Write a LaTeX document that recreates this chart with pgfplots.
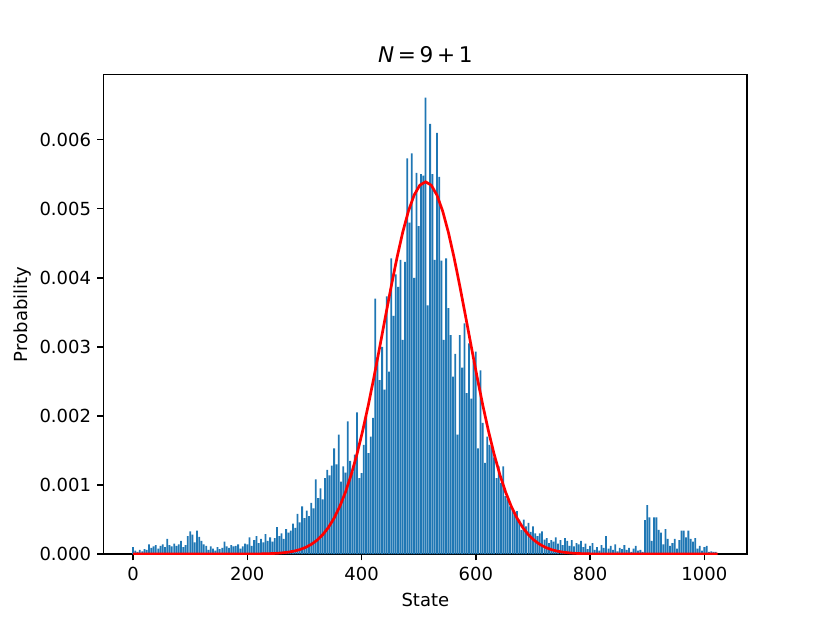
\documentclass[border=0pt]{standalone}
\usepackage{fontspec}
\setmainfont{DejaVu Sans}
\usepackage{pgfplots}
\usepackage{pgfplotstable}
\pgfplotsset{compat=1.18}
\definecolor{mplblue}{HTML}{1F77B4}

% probability per state (every 4th state)
\pgfplotstableread[row sep=\\]{
s p\\
0 0.00010\\ 4 0.00005\\ 8 0.00003\\ 12 0.00006\\ 16 0.00004\\ 20 0.00007\\ 24 0.00006\\ 28 0.00014\\
32 0.00009\\ 36 0.00011\\ 40 0.00013\\ 44 0.00008\\ 48 0.00012\\ 52 0.00014\\ 56 0.00010\\ 60 0.00022\\
64 0.00013\\ 68 0.00011\\ 72 0.00015\\ 76 0.00012\\ 80 0.00014\\ 84 0.00019\\ 88 0.00010\\ 92 0.00013\\
96 0.00026\\ 100 0.00033\\ 104 0.00028\\ 108 0.00017\\ 112 0.00034\\ 116 0.00025\\ 120 0.00019\\ 124 0.00014\\
128 0.00012\\ 132 0.00006\\ 136 0.00011\\ 140 0.00008\\ 144 0.00005\\ 148 0.00010\\ 152 0.00007\\ 156 0.00009\\
160 0.00018\\ 164 0.00011\\ 168 0.00009\\ 172 0.00013\\ 176 0.00011\\ 180 0.00012\\ 184 0.00014\\ 188 0.00008\\
192 0.00011\\ 196 0.00015\\ 200 0.00014\\ 204 0.00024\\ 208 0.00012\\ 212 0.00020\\ 216 0.00026\\ 220 0.00016\\
224 0.00022\\ 228 0.00017\\ 232 0.00029\\ 236 0.00019\\ 240 0.00024\\ 244 0.00018\\ 248 0.00023\\ 252 0.00039\\
256 0.00026\\ 260 0.00030\\ 264 0.00022\\ 268 0.00036\\ 272 0.00031\\ 276 0.00034\\ 280 0.00044\\ 284 0.00038\\
288 0.00058\\ 292 0.00046\\ 296 0.00069\\ 300 0.00052\\ 304 0.00063\\ 308 0.00055\\ 312 0.00074\\ 316 0.00066\\
320 0.00108\\ 324 0.00081\\ 328 0.00095\\ 332 0.00079\\ 336 0.00110\\ 340 0.00122\\ 344 0.00114\\ 348 0.00128\\
352 0.00153\\ 356 0.00130\\ 360 0.00173\\ 364 0.00105\\ 368 0.00127\\ 372 0.00118\\ 376 0.00192\\ 380 0.00135\\
384 0.00119\\ 388 0.00144\\ 392 0.00205\\ 396 0.00110\\ 400 0.00117\\ 404 0.00158\\ 408 0.00200\\ 412 0.00146\\
416 0.00170\\ 420 0.00197\\ 424 0.00370\\ 428 0.00285\\ 432 0.00252\\ 436 0.00300\\ 440 0.00238\\ 444 0.00373\\
448 0.00264\\ 452 0.00428\\ 456 0.00345\\ 460 0.00405\\ 464 0.00387\\ 468 0.00426\\ 472 0.00310\\ 476 0.00423\\
480 0.00573\\ 484 0.00480\\ 488 0.00580\\ 492 0.00400\\ 496 0.00552\\ 500 0.00475\\ 504 0.00550\\ 508 0.00548\\
512 0.00661\\ 516 0.00360\\ 520 0.00623\\ 524 0.00550\\ 528 0.00426\\ 532 0.00610\\ 536 0.00546\\ 540 0.00425\\
544 0.00310\\ 548 0.00428\\ 552 0.00356\\ 556 0.00317\\ 560 0.00257\\ 564 0.00290\\ 568 0.00173\\ 572 0.00317\\
576 0.00270\\ 580 0.00334\\ 584 0.00233\\ 588 0.00305\\ 592 0.00225\\ 596 0.00280\\ 600 0.00293\\ 604 0.00153\\
608 0.00266\\ 612 0.00190\\ 616 0.00132\\ 620 0.00170\\ 624 0.00158\\ 628 0.00156\\ 632 0.00140\\ 636 0.00110\\
640 0.00127\\ 644 0.00103\\ 648 0.00127\\ 652 0.00084\\ 656 0.00079\\ 660 0.00069\\ 664 0.00064\\ 668 0.00057\\
672 0.00062\\ 676 0.00050\\ 680 0.00035\\ 684 0.00050\\ 688 0.00040\\ 692 0.00045\\ 696 0.00032\\ 700 0.00040\\
704 0.00030\\ 708 0.00026\\ 712 0.00030\\ 716 0.00033\\ 720 0.00021\\ 724 0.00023\\ 728 0.00016\\ 732 0.00020\\
736 0.00018\\ 740 0.00024\\ 744 0.00015\\ 748 0.00020\\ 752 0.00013\\ 756 0.00023\\ 760 0.00019\\ 764 0.00012\\
768 0.00020\\ 772 0.00011\\ 776 0.00016\\ 780 0.00014\\ 784 0.00019\\ 788 0.00010\\ 792 0.00015\\ 796 0.00007\\
800 0.00012\\ 804 0.00016\\ 808 0.00006\\ 812 0.00010\\ 816 0.00005\\ 820 0.00013\\ 824 0.00009\\ 828 0.00026\\
832 0.00008\\ 836 0.00012\\ 840 0.00006\\ 844 0.00014\\ 848 0.00004\\ 852 0.00009\\ 856 0.00007\\ 860 0.00013\\
864 0.00006\\ 868 0.00009\\ 872 0.00003\\ 876 0.00008\\ 880 0.00012\\ 884 0.00005\\ 888 0.00006\\ 892 0.00003\\
896 0.00049\\ 900 0.00071\\ 904 0.00053\\ 908 0.00019\\ 912 0.00053\\ 916 0.00053\\ 920 0.00035\\ 924 0.00031\\
928 0.00014\\ 932 0.00036\\ 936 0.00022\\ 940 0.00012\\ 944 0.00016\\ 948 0.00022\\ 952 0.00008\\ 956 0.00020\\
960 0.00034\\ 964 0.00034\\ 968 0.00024\\ 972 0.00034\\ 976 0.00022\\ 980 0.00018\\ 984 0.00023\\ 988 0.00008\\
992 0.00012\\ 996 0.00005\\ 1000 0.00010\\ 1004 0.00012\\ 1008 0.00003\\ 1012 0.00004\\ 1016 0.00003\\ 1020 0.00003\\
}\bars

% fitted gaussian
\pgfplotstableread[row sep=\\]{
s g\\
0 0\\ 212 0.0000015\\ 222 0.0000025\\ 232 0.0000042\\ 242 0.0000069\\ 252 0.0000113\\ 262 0.0000179\\
272 0.0000280\\ 282 0.0000430\\ 292 0.0000649\\ 302 0.0000962\\ 312 0.000140\\ 322 0.000200\\
332 0.000280\\ 342 0.000385\\ 352 0.000521\\ 362 0.000691\\ 372 0.000900\\ 382 0.001152\\
392 0.001447\\ 402 0.001786\\ 412 0.002163\\ 422 0.002573\\ 432 0.003005\\ 442 0.003446\\
452 0.003880\\ 462 0.004290\\ 472 0.004657\\ 482 0.004965\\ 492 0.005197\\ 502 0.005341\\
512 0.005390\\ 522 0.005341\\ 532 0.005197\\ 542 0.004965\\ 552 0.004657\\ 562 0.004290\\
572 0.003880\\ 582 0.003446\\ 592 0.003005\\ 602 0.002573\\ 612 0.002163\\ 622 0.001786\\
632 0.001447\\ 642 0.001152\\ 652 0.000900\\ 662 0.000691\\ 672 0.000521\\ 682 0.000385\\
692 0.000280\\ 702 0.000200\\ 712 0.000140\\ 722 0.0000962\\ 732 0.0000649\\ 742 0.0000430\\
752 0.0000280\\ 762 0.0000179\\ 772 0.0000113\\ 782 0.0000069\\ 792 0.0000042\\ 802 0.0000025\\
812 0.0000015\\ 1023 0\\
}\fit

\begin{document}
\begin{tikzpicture}
\path[use as bounding box] (-57.6pt,-38.0pt) rectangle (403.2pt,307.6pt);
\begin{axis}[
    at={(0,0)}, anchor=south west,
    scale only axis, width=357.12pt, height=266.1pt,
    xmin=-51.2, xmax=1074.6, ymin=0, ymax=0.00694,
    axis line style={line width=0.8pt},
    every tick/.style={black, line width=0.8pt},
    tick align=outside, major tick length=3.5pt,
    xtick pos=lower, ytick pos=left,
    xtick={0,200,400,600,800,1000},
    ytick={0,0.001,0.002,0.003,0.004,0.005,0.006},
    scaled y ticks=false,
    xticklabel style={/pgf/number format/.cd, set thousands separator={}},
    yticklabel style={/pgf/number format/.cd, fixed, fixed zerofill, precision=3},
    /pgf/number format/assume math mode=true,
    ticklabel style={font=\fontsize{10}{12}\selectfont},
    label style={font=\fontsize{10}{12}\selectfont},
    xlabel={State}, ylabel={Probability},
    ylabel style={xshift=0pt, yshift=-2pt},
    title={\textit{N}\,=\,9\,+\,1},
    title style={font=\fontsize{12}{14}\selectfont, yshift=-3pt},
]
\addplot[ybar, bar width=3.1, bar shift=0pt, fill=mplblue, draw=none] table[x=s, y=p] {\bars};
\addplot[red, line width=1.5pt, no markers] table[x=s, y=g] {\fit};
\end{axis}
\end{tikzpicture}
\end{document}
